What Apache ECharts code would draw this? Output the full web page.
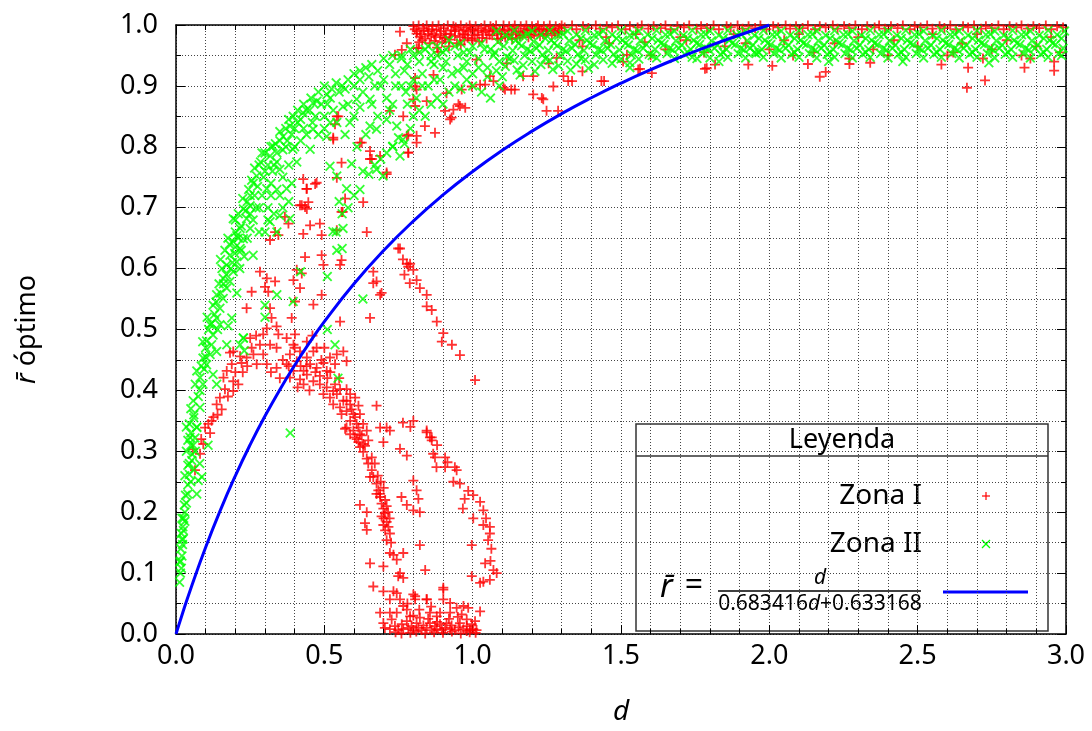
<!DOCTYPE html>
<html><head><meta charset="utf-8">
<script src="https://cdn.jsdelivr.net/npm/echarts@6/dist/echarts.min.js"></script>
<style>html,body{margin:0;padding:0;background:#fff}#c{width:1092px;height:731px}</style>
</head><body><div id="c"></div>
<script>
const xTickLabels = ['0.0','0.5','1.0','1.5','2.0','2.5','3.0'];
const yTickLabels = ['0.0','0.1','0.2','0.3','0.4','0.5','0.6','0.7','0.8','0.9','1.0'];

// Zona I (red +)
const zonaITop = [[.80,.998],[.812,.99],[.818,.999],[.826,.985],[.833,.995],[.84,.978],[.845,.999],[.852,.99],[.86,.982],[.865,.998],[.872,.974],[.878,.992],[.885,.999],[.89,.983],[.897,.972],[.903,.995],[.91,.986],[.916,.999],[.922,.976],[.928,.991],[.935,.998],[.94,.982],[.947,.97],[.953,.993],[.96,.999],[.966,.985],[.972,.975],[.979,.996],[.985,.989],[.99,.999],[.997,.978],[1.003,.992],[1.01,.998],[1.016,.984],[1.022,.973],[1.029,.995],[1.035,.988],[1.04,.999],[1.047,.978],[1.053,.992],[1.06,.998],[1.066,.983],[1.072,.99],[1.079,.999],[1.085,.977],[1.091,.993],[1.098,.986],[1.104,.999],[1.11,.98],[1.117,.992],[1.123,.998],[1.13,.985],[1.136,.994],[1.142,.999],[1.149,.979],[1.155,.99],[1.162,.998],[1.168,.984],[1.175,.994],[1.181,.999],[1.188,.98],[1.194,.991],[1.2,.998],[1.207,.985],[1.214,.995],[1.22,.999],[1.227,.982],[1.233,.992],[1.24,.998],[1.247,.986],[1.253,.994],[1.26,.999],[1.267,.983],[1.273,.991],[1.28,.998],[1.287,.986],[1.293,.995],[1.3,.999],[.83,.975],[.87,.985],[.905,.978],[.94,.99],[.975,.984],[1.0,.975],[.855,.97],[.92,.965],[.96,.968],[.88,.963],[.82,.972],
[.805,.993],[.822,.981],[.837,.991],[.849,.985],[.863,.993],[.876,.98],[.893,.99],[.908,.98],[.925,.985],[.943,.996],[.957,.98],[.97,.991],[.983,.979],[.994,.994],[1.007,.983],[1.019,.991],[1.032,.979],[1.044,.99],[1.057,.984],[1.069,.995],[1.082,.986],[1.095,.978],[1.108,.99],[1.121,.983],[1.133,.977],[1.146,.988],[1.159,.982],[1.172,.988],[1.185,.992],[1.198,.983],[1.21,.99],[1.224,.993],[1.237,.985],[1.25,.99],[1.263,.993],[1.277,.988],[1.29,.99],
[1.31,.996],[1.335,.999],[1.35,.993],[1.372,.998],[1.39,.995],[1.415,.999],[1.43,.994],[1.452,.998],[1.47,.996],[1.49,.999],[1.515,.993],[1.53,.998],[1.556,.996],[1.57,.999],[1.592,.994],[1.61,.998],[1.634,.995],[1.65,.999],[1.668,.993],[1.69,.998],[1.712,.996],[1.73,.999],[1.755,.994],[1.77,.998],[1.79,.995],[1.812,.999],[1.83,.993],[1.856,.998],[1.87,.996],[1.893,.999],[1.91,.994],[1.93,.998],[1.952,.995],[1.97,.999],[1.99,.993],[2.013,.998],[2.03,.996],[2.055,.999],[2.07,.994],[2.09,.998],[2.112,.995],[2.13,.999],[2.154,.993],[2.17,.998],[2.19,.996],[2.214,.999],[2.23,.994],[2.252,.998],[2.27,.995],[2.29,.999],[2.312,.993],[2.33,.998],[2.355,.996],[2.37,.999],[2.39,.994],[2.41,.998],[2.432,.995],[2.45,.999],[2.474,.993],[2.49,.998],[2.51,.996],[2.532,.999],[2.55,.994],[2.574,.998],[2.59,.995],[2.61,.999],[2.63,.993],[2.653,.998],[2.67,.996],[2.69,.999],[2.714,.994],[2.73,.998],[2.75,.995],[2.772,.999],[2.79,.993],[2.81,.998],[2.833,.996],[2.85,.999],[2.872,.994],[2.89,.998],[2.91,.995],[2.932,.999],[2.95,.993],[2.97,.998],[2.99,.996],
[1.36,.975],[1.37,.965],[1.45,.98],[1.46,.97],[1.55,.985],[1.58,.972],[1.65,.96],[1.7,.98],[1.72,.975],[1.85,.965],[1.88,.985],[1.92,.97],[2.0,.96],[2.05,.975],[2.1,.985],[2.15,.955],[2.22,.97],[2.3,.98],[2.35,.96],[2.42,.975],[2.5,.965],[2.55,.985],[2.6,.95],[2.65,.97],[2.7,.985],[2.75,.96],[2.8,.975],[2.85,.95],[2.9,.965],[2.95,.98],[2.98,.955],[2.62,.955],[2.4,.95],[2.08,.95],[1.78,.955],[1.6,.95],[2.88,.945],[2.96,.94],[2.72,.945],[2.27,.945]];
const zonaIUpper = [[0.755,0.989],[0.778,0.97],[0.811,0.986],[0.761,0.959],[0.738,0.951],[0.811,0.962],[0.806,0.913],[0.806,0.899],[0.811,0.894],[0.8,0.878],[0.806,0.867],[0.845,0.875],[0.907,0.859],[0.721,0.859],[0.766,0.85],[0.839,0.834],[0.873,0.823],[0.783,0.82],[0.811,0.818],[0.811,0.807],[0.783,0.791],[0.542,0.85],[0.536,0.837],[0.53,0.815],[0.62,0.807],[0.654,0.78],[0.688,0.785],[0.558,0.774],[0.71,0.758],[0.429,0.747],[0.474,0.741],[0.441,0.731],[0.542,0.749],[0.817,0.962],[0.868,0.918],[0.884,0.956],[0.912,0.888],[0.924,0.845],[0.935,0.861],[0.952,0.87],[0.975,0.864],[0.963,0.894],[0.997,0.899],[1.042,0.902],[1.07,0.908],[1.104,0.897],[1.115,0.937],[1.13,0.894],[1.17,0.916],[1.204,0.916],[1.204,0.886],[1.238,0.878],[1.249,0.859],[1.288,0.859],[1.272,0.899],[1.322,0.908],[1.37,0.924],[1.443,0.908],[1.283,0.946],[1.306,0.916],[1.256,0.937],[1.058,0.916],[1.013,0.943],[0.929,0.848],[0.957,0.867],[1.025,0.902],[1.109,0.894],[1.142,0.894],[1.233,0.88],[1.335,0.908],[1.434,0.908],[1.507,0.94],[1.558,0.927],[1.604,0.921],[1.789,0.929],[1.817,0.935],[1.929,0.935],[1.783,0.928],[2.13,0.936],[2.17,0.915],[2.19,0.923],[2.27,0.936],[2.34,0.938],[2.58,0.935],[2.67,0.93],[2.666,0.897],[2.727,0.909],[2.86,0.93],[2.96,0.925],[1.564,0.928],[1.52,0.951],[2.01,0.933]];
const zonaIScatter = [[0.547,0.85],[0.53,0.812],[0.626,0.807],[0.654,0.793],[0.66,0.78],[0.71,0.755],[0.778,0.818],[0.783,0.79],[0.44,0.731],[0.469,0.739],[0.424,0.704],[0.435,0.701],[0.446,0.709],[0.57,0.715],[0.562,0.693],[0.631,0.709],[0.367,0.685],[0.379,0.674],[0.452,0.671],[0.485,0.674],[0.491,0.655],[0.429,0.657],[0.334,0.66],[0.345,0.655],[0.317,0.647],[0.542,0.663],[0.643,0.66],[0.435,0.619],[0.491,0.622],[0.558,0.614],[0.553,0.606],[0.497,0.606],[0.407,0.598],[0.424,0.592],[0.396,0.581],[0.418,0.568],[0.491,0.557],[0.463,0.541],[0.401,0.546],[0.39,0.519],[0.322,0.519],[0.339,0.505],[0.283,0.595],[0.306,0.584],[0.3,0.57],[0.334,0.579],[0.311,0.562],[0.255,0.562],[0.238,0.535],[0.317,0.535],[0.665,0.595],[0.676,0.579],[0.693,0.56],[0.654,0.519],[0.553,0.513],[0.418,0.704],[0.441,0.698],[0.665,0.576],[0.688,0.557],[0.558,0.693]];
const zonaIArcLeft = [[0.057,0.303],[0.081,0.296],[0.092,0.312],[0.064,0.269],[0.098,0.339],[0.109,0.345],[0.126,0.356],[0.137,0.377],[0.154,0.369],[0.148,0.388],[0.165,0.402],[0.193,0.399],[0.193,0.415],[0.16,0.421],[0.171,0.432],[0.188,0.443],[0.182,0.462],[0.216,0.456],[0.2,0.43],[0.21,0.41],[0.12,0.35],[0.14,0.36],[0.175,0.39],[0.115,0.33],[0.085,0.32],[0.225,0.43],[0.24,0.44],[0.255,0.47],[0.27,0.49]];
const zonaICluster = [[0.294,0.492],[0.345,0.492],[0.373,0.486],[0.396,0.475],[0.418,0.464],[0.384,0.459],[0.339,0.47],[0.317,0.475],[0.283,0.475],[0.294,0.459],[0.261,0.459],[0.238,0.454],[0.272,0.443],[0.306,0.443],[0.339,0.437],[0.373,0.443],[0.407,0.448],[0.441,0.454],[0.463,0.464],[0.474,0.47],[0.452,0.443],[0.43,0.432],[0.396,0.432],[0.384,0.421],[0.418,0.418],[0.441,0.426],[0.474,0.437],[0.497,0.445],[0.519,0.454],[0.542,0.459],[0.564,0.464],[0.575,0.448],[0.536,0.443],[0.508,0.432],[0.485,0.424],[0.463,0.415],[0.485,0.41],[0.508,0.405],[0.53,0.399],[0.497,0.394],[0.542,0.394],[0.519,0.388],[0.564,0.383],[0.553,0.372],[0.53,0.377],[0.587,0.377],[0.575,0.366],[0.598,0.361],[0.558,0.361],[0.587,0.35],[0.609,0.345],[0.598,0.334],[0.575,0.339],[0.62,0.328],[0.609,0.32],[0.631,0.312],[0.676,0.375],[0.71,0.339],[0.8,0.35],[0.845,0.334],[0.862,0.323],[0.441,0.48],[0.401,0.492],[0.306,0.502],[0.25,0.486],[0.193,0.464],[0.221,0.445],[0.41,0.405],[0.43,0.41],[0.45,0.4],[0.36,0.45],[0.35,0.42],[0.32,0.43],[0.46,0.49],[0.5,0.47],[0.52,0.43],[0.55,0.42],[0.4,0.47],[0.38,0.44],[0.42,0.44],[0.44,0.44],[0.47,0.43],[0.49,0.45],[0.51,0.42]];
const zonaITail = [[0.57,0.337],[0.587,0.328],[0.603,0.323],[0.615,0.315],[0.62,0.307],[0.631,0.299],[0.643,0.288],[0.648,0.28],[0.66,0.269],[0.665,0.258],[0.676,0.247],[0.682,0.236],[0.688,0.225],[0.693,0.214],[0.699,0.206],[0.704,0.198],[0.693,0.193],[0.71,0.184],[0.716,0.176],[0.721,0.165],[0.699,0.179],[0.688,0.23],[0.676,0.23],[0.654,0.258],[0.643,0.2],[0.62,0.212],[0.637,0.182],[0.643,0.171],[0.71,0.154],[0.721,0.133],[0.733,0.13],[0.766,0.133],[0.744,0.122],[0.699,0.111],[0.654,0.116],[0.755,0.1],[0.766,0.092],[0.749,0.095],[0.699,0.07],[0.733,0.07],[0.721,0.057],[0.665,0.078],[0.688,0.035],[0.744,0.035],[0.536,0.41],[0.553,0.402],[0.575,0.402],[0.587,0.394],[0.604,0.388],[0.575,0.383],[0.615,0.375],[0.592,0.369],[0.62,0.361],[0.604,0.356],[0.631,0.345],[0.615,0.339],[0.643,0.334],[0.626,0.326],[0.648,0.318],[0.637,0.309],[0.688,0.339],[0.721,0.334],[0.699,0.315],[0.66,0.29],[0.67,0.28],[0.68,0.26],[0.69,0.25],[0.7,0.24],[0.705,0.22],[0.71,0.21],[0.715,0.2],[0.7,0.19],[0.72,0.19],[0.705,0.17],[0.725,0.15]];
const zonaIBottom = [[.704,.010],[.721,.008],[.738,.013],[.749,.0065],[.761,.016],[.766,.008],[.778,.021],[.783,.010],[.794,.013],[.8,.0065],[.811,.018],[.817,.010],[.828,.0065],[.834,.014],[.845,.010],[.856,.018],[.862,.0065],[.873,.013],[.879,.008],[.89,.016],[.896,.0065],[.907,.010],[.912,.018],[.924,.008],[.929,.014],[.94,.0065],[.952,.011],[.957,.018],[.969,.008],[.98,.013],[.991,.0065],[.997,.016],[1.002,.008],[1.013,.0065],[1.008,.021],[.98,.024],[.946,.043],[.969,.046],[.924,.051],[.901,.073],[.901,.057],[.845,.057],[.856,.035],[.8,.065],[.806,.057],[.778,.04],[.766,.046],[.755,.057],[.744,.067],[.721,.035],[.789,.029],[.822,.027],[.879,.029],[.924,.035],[.963,.032],[1.025,.037],[.985,.043],[.89,.035],[.727,.024],[.699,.018],[.74,.003],[.76,.001],[.79,.002],[.81,.004],[.84,.001],[.87,.003],[.9,.002],[.93,.004],[.96,.001],[.99,.003],[1.01,.002],[.85,.025],[.88,.02],[.92,.025],[.95,.028],[.98,.005],[.82,.04],[.86,.045],[.78,.05],[.8,.03]];
const zonaIArcMid = [[0.749,0.633],[0.778,0.608],[0.783,0.603],[0.8,0.598],[0.788,0.576],[0.811,0.581],[0.822,0.568],[0.845,0.557],[0.845,0.538],[0.862,0.532],[0.879,0.513],[0.901,0.494],[0.896,0.48],[0.93,0.475],[0.957,0.458],[1.008,0.417],[0.765,0.615],[0.77,0.59],[0.755,0.633],[0.789,0.608]];
const zonaILoop = [[0.845,0.331],[0.862,0.318],[0.867,0.296],[0.873,0.29],[0.907,0.29],[0.878,0.274],[0.907,0.274],[0.946,0.269],[0.935,0.25],[0.957,0.247],[0.973,0.222],[0.967,0.206],[1.002,0.228],[1.025,0.217],[1.036,0.203],[1.002,0.19],[1.036,0.179],[1.058,0.176],[1.058,0.165],[1.052,0.154],[0.997,0.146],[1.042,0.116],[1.07,0.105],[1.081,0.1],[1.058,0.089],[1.036,0.086],[1.025,0.084],[0.997,0.095],[0.765,0.347],[0.79,0.34],[0.856,0.323],[0.94,0.274],[0.88,0.31],[0.915,0.282],[0.985,0.235],[1.045,0.19],[1.063,0.14],[1.06,0.12],[0.755,0.304],[0.778,0.293],[0.8,0.252],[0.811,0.236],[0.76,0.225],[0.817,0.222],[0.778,0.212],[0.8,0.203],[0.822,0.2],[0.822,0.146],[0.84,0.105],[0.806,0.062],[0.845,0.057],[0.901,0.076]];

// Zona II (green x)
const zonaIIColumn = [[0.012,0.085],[0.015,0.1],[0.018,0.108],[0.013,0.118],[0.02,0.128],[0.016,0.14],[0.022,0.147],[0.024,0.156],[0.018,0.165],[0.023,0.176],[0.026,0.19],[0.03,0.2],[0.028,0.212],[0.032,0.228],[0.04,0.245],[0.07,0.23],[0.075,0.252],[0.087,0.258],[0.045,0.262],[0.04,0.277],[0.053,0.285],[0.06,0.27],[0.058,0.31],[0.064,0.322],[0.108,0.31],[0.04,0.318],[0.035,0.3],[0.05,0.33],[0.045,0.345],[0.07,0.34],[0.06,0.355],[0.055,0.295],[0.015,0.12],[0.02,0.155],[0.025,0.17],[0.03,0.185],[0.035,0.215],[0.04,0.23],[0.05,0.25],[0.045,0.28],[0.05,0.31],[0.065,0.3],[0.08,0.28],[0.03,0.26],[0.02,0.19]];
const zonaIIOuter = [[0.047,0.323],[0.07,0.339],[0.081,0.372],[0.058,0.383],[0.091,0.41],[0.081,0.421],[0.07,0.432],[0.103,0.442],[0.091,0.453],[0.115,0.459],[0.137,0.464],[0.103,0.481],[0.125,0.491],[0.115,0.508],[0.137,0.519],[0.148,0.535],[0.125,0.54],[0.159,0.551],[0.137,0.557],[0.171,0.568],[0.182,0.579],[0.159,0.584],[0.193,0.595],[0.171,0.606],[0.205,0.611],[0.182,0.622],[0.216,0.633],[0.193,0.644],[0.227,0.649],[0.216,0.666],[0.193,0.682],[0.238,0.682],[0.227,0.698],[0.25,0.703],[0.148,0.508],[0.171,0.475],[0.216,0.475],[0.227,0.486],[0.188,0.519],[0.176,0.506],[0.125,0.426],[0.137,0.41],[0.081,0.4],[0.06,0.36],[0.075,0.39],[0.095,0.435],[0.1,0.47],[0.11,0.5],[0.12,0.475],[0.13,0.525],[0.145,0.575],[0.155,0.6],[0.165,0.63],[0.175,0.65],[0.2,0.66],[0.21,0.69],[0.24,0.71],[0.205,0.56],[0.215,0.6],[0.23,0.62],[0.198,0.625],[0.185,0.6],
[0.035,0.34],[0.05,0.37],[0.065,0.41],[0.085,0.44],[0.1,0.455],[0.09,0.48],[0.105,0.52],[0.12,0.51],[0.135,0.545],[0.14,0.5],[0.15,0.56],[0.16,0.575],[0.15,0.615],[0.17,0.59],[0.18,0.64],[0.19,0.61],[0.2,0.635],[0.2,0.68],[0.21,0.65],[0.22,0.67],[0.225,0.715],[0.235,0.695],[0.245,0.73],[0.255,0.745],[0.265,0.72],[0.265,0.765],[0.275,0.735],[0.285,0.775],[0.295,0.75],[0.3,0.79],[0.31,0.77],[0.32,0.8],[0.325,0.76],[0.335,0.805],[0.34,0.775],[0.35,0.825],[0.36,0.795],[0.37,0.83],[0.375,0.81],[0.38,0.845],[0.395,0.85],[0.4,0.83],[0.41,0.86],[0.42,0.845],[0.43,0.87],[0.45,0.86],[0.455,0.88],[0.475,0.875],[0.48,0.89],[0.5,0.9],[0.51,0.87],[0.525,0.895],[0.54,0.905],[0.56,0.9],[0.58,0.91],[0.6,0.92],[0.62,0.925],[0.64,0.93],[0.66,0.935],[0.7,0.945],[0.73,0.95],[0.26,0.68],[0.28,0.7],[0.28,0.66],[0.24,0.65],[0.22,0.63],[0.25,0.69],[0.32,0.72],[0.34,0.73],[0.36,0.75],[0.38,0.77],[0.4,0.8],[0.42,0.81],[0.44,0.82],[0.46,0.84],[0.48,0.82],[0.5,0.83],[0.52,0.84],[0.31,0.68],[0.35,0.72],[0.39,0.74]];
const zonaIIMiddle = [[0.25,0.72],[0.272,0.752],[0.317,0.785],[0.327,0.801],[0.361,0.817],[0.384,0.834],[0.428,0.856],[0.462,0.872],[0.509,0.886],[0.25,0.666],[0.317,0.677],[0.35,0.687],[0.384,0.682],[0.306,0.731],[0.373,0.731],[0.35,0.763],[0.407,0.775],[0.394,0.796],[0.462,0.829],[0.452,0.796],[0.508,0.817],[0.519,0.768],[0.542,0.752],[0.575,0.731],[0.592,0.772],[0.542,0.84],[0.586,0.84],[0.563,0.866],[0.609,0.878],[0.654,0.878],[0.654,0.834],[0.676,0.829],[0.71,0.845],[0.744,0.834],[0.765,0.812],[0.731,0.801],[0.676,0.763],[0.698,0.752],[0.755,0.785],[0.563,0.666],[0.529,0.661],[0.542,0.63],[0.26,0.622],[0.205,0.654],[0.26,0.74],[0.28,0.77],[0.29,0.72],[0.3,0.76],[0.31,0.7],[0.32,0.74],[0.33,0.77],[0.34,0.79],[0.27,0.7],[0.29,0.79],[0.35,0.81],[0.37,0.8],[0.39,0.82],[0.41,0.84],[0.43,0.83],[0.44,0.86],[0.47,0.85],[0.49,0.87],[0.5,0.85],[0.52,0.88],[0.53,0.86],[0.55,0.89],[0.57,0.895],[0.6,0.9],[0.62,0.91],[0.63,0.89],[0.65,0.915],[0.67,0.9],[0.68,0.925],[0.7,0.91],[0.72,0.935],[0.74,0.92],[0.76,0.945],[0.78,0.935],[0.8,0.95],[0.82,0.94],[0.84,0.96],[0.86,0.95],[0.88,0.965],[0.9,0.955],[0.3,0.66],[0.33,0.69],[0.36,0.7],[0.34,0.66],[0.38,0.71]];
const zonaIIInner = [[0.56,0.69],[0.6,0.72],[0.62,0.73],[0.65,0.755],[0.69,0.78],[0.73,0.8],[0.77,0.805],[0.54,0.66],[0.55,0.71],[0.58,0.7],[0.63,0.76],[0.67,0.77],[0.71,0.79],[0.75,0.815],[0.79,0.83],[0.8,0.85],[0.82,0.86],[0.84,0.85],[0.86,0.87],[0.88,0.88],[0.9,0.87],[0.92,0.89],[0.94,0.9],[0.96,0.895],[0.98,0.91],[1.0,0.92],[1.03,0.89],[1.06,0.88],[1.09,0.9],[1.0,0.9],[0.97,0.93],[0.93,0.92],[0.89,0.91],[0.85,0.9],[0.81,0.88],[0.78,0.87],[0.83,0.92],[0.87,0.935],[0.91,0.94],[0.95,0.95],[0.99,0.955],[1.02,0.945],[1.05,0.93],[1.04,0.96],[0.96,0.97],[0.92,0.975],[1.07,0.95],[0.775,0.89],[0.8,0.91],[0.76,0.9],[0.73,0.87],[0.76,0.95],[0.79,0.96],[0.82,0.955],[0.85,0.965],[0.88,0.95],[0.91,0.96],[0.94,0.965],[0.97,0.955],[1.0,0.965],[1.03,0.97],[1.06,0.96],[1.02,0.93],[0.98,0.94],[0.9,0.93],[0.86,0.94],[0.83,0.9],[0.87,0.91],[0.95,0.925],[1.05,0.915],[0.79,0.9],[0.77,0.925],[0.74,0.9],[0.71,0.88],[0.69,0.9],[0.66,0.87],[0.62,0.865],[0.58,0.87],[0.6,0.85],[0.57,0.82],[0.61,0.8],[0.64,0.82],[0.68,0.85],[0.72,0.86]];
const zonaIITop = [[1.08,.99],[1.085,.972],[1.075,.955],[1.09,.94],[1.08,.925],[1.11,.983],[1.105,.965],[1.115,.948],[1.11,.932],[1.1,.915],[1.14,.991],[1.145,.975],[1.135,.958],[1.14,.942],[1.15,.926],[1.17,.982],[1.165,.966],[1.175,.95],[1.17,.934],[1.16,.918],[1.2,.99],[1.205,.973],[1.195,.957],[1.2,.94],[1.21,.924],[1.23,.984],[1.225,.967],[1.235,.951],[1.23,.935],[1.26,.991],[1.265,.975],[1.255,.958],[1.26,.942],[1.27,.927],[1.29,.983],[1.285,.966],[1.295,.95],[1.29,.933],[1.32,.99],[1.325,.974],[1.315,.957],[1.32,.941],[1.33,.926],[1.35,.984],[1.345,.968],[1.355,.952],[1.35,.936],[1.38,.991],[1.385,.975],[1.375,.958],[1.38,.943],[1.39,.929],[1.41,.983],[1.405,.967],[1.415,.951],[1.41,.935],[1.44,.99],[1.445,.974],[1.435,.958],[1.44,.943],[1.47,.984],[1.465,.968],[1.475,.952],[1.47,.937],[1.5,.991],[1.505,.975],[1.495,.959],[1.5,.944],[1.53,.983],[1.525,.967],[1.535,.951],[1.53,.938],[1.56,.99],[1.565,.974],[1.555,.958],[1.56,.944],[1.59,.984],[1.585,.968],[1.595,.952],
[1.62,.991],[1.625,.975],[1.615,.96],[1.62,.946],[1.65,.984],[1.645,.968],[1.655,.953],[1.68,.99],[1.685,.974],[1.675,.959],[1.68,.945],[1.71,.983],[1.705,.967],[1.715,.952],[1.74,.991],[1.745,.975],[1.735,.96],[1.74,.947],[1.77,.984],[1.765,.968],[1.775,.953],[1.8,.99],[1.805,.974],[1.795,.96],[1.8,.946],[1.83,.983],[1.825,.967],[1.835,.952],[1.86,.991],[1.865,.975],[1.855,.96],[1.86,.947],[1.89,.984],[1.885,.968],[1.895,.953],[1.92,.99],[1.925,.974],[1.915,.959],[1.92,.946],[1.95,.983],[1.945,.967],[1.955,.953],[1.98,.991],[1.985,.975],[1.975,.96],[1.98,.947],[2.01,.984],[2.005,.968],[2.015,.953],[2.04,.99],[2.045,.974],[2.035,.959],[2.04,.946],[2.07,.983],[2.065,.967],[2.075,.952],[2.1,.991],[2.105,.975],[2.095,.96],[2.1,.947],[2.13,.984],[2.125,.968],[2.135,.953],[2.16,.99],[2.165,.974],[2.155,.959],[2.16,.946],[2.19,.983],[2.185,.967],[2.195,.952],[2.22,.991],[2.225,.975],[2.215,.96],[2.22,.947],[2.25,.984],[2.245,.968],[2.255,.953],[2.28,.99],[2.285,.974],[2.275,.959],[2.28,.946],[2.31,.983],[2.305,.967],[2.315,.952],[2.34,.991],[2.345,.975],[2.335,.96],[2.34,.947],[2.37,.984],[2.365,.968],[2.375,.953],[2.4,.99],[2.405,.974],[2.395,.959],[2.4,.946],[2.43,.983],[2.425,.967],[2.435,.952],[2.46,.991],[2.465,.975],[2.455,.96],[2.46,.947],[2.49,.984],[2.485,.968],[2.495,.953],[2.52,.99],[2.525,.974],[2.515,.959],[2.52,.946],[2.55,.983],[2.545,.967],[2.555,.952],[2.58,.991],[2.585,.975],[2.575,.96],[2.58,.947],[2.61,.984],[2.605,.968],[2.615,.953],[2.64,.99],[2.645,.974],[2.635,.959],[2.64,.946],[2.67,.983],[2.665,.967],[2.675,.952],[2.7,.991],[2.705,.975],[2.695,.96],[2.7,.947],[2.73,.984],[2.725,.968],[2.735,.953],[2.76,.99],[2.765,.974],[2.755,.959],[2.76,.946],[2.79,.983],[2.785,.967],[2.795,.952],[2.82,.991],[2.825,.975],[2.815,.96],[2.82,.947],[2.85,.984],[2.845,.968],[2.855,.953],[2.88,.99],[2.885,.974],[2.875,.959],[2.88,.946],[2.91,.983],[2.905,.967],[2.915,.952],[2.94,.991],[2.945,.975],[2.935,.96],[2.94,.947],[2.97,.984],[2.965,.968],[2.975,.953],[2.995,.99],[2.99,.962],
[1.125,.978],[1.125,.945],[1.185,.985],[1.185,.96],[1.245,.978],[1.245,.945],[1.305,.985],[1.305,.96],[1.365,.978],[1.365,.945],[1.425,.985],[1.425,.96],[1.485,.978],[1.485,.945],[1.545,.985],[1.545,.96],[1.605,.978],[1.605,.95],[1.665,.985],[1.665,.962],[1.725,.978],[1.725,.955],[1.785,.985],[1.785,.962],[1.845,.978],[1.845,.955],[1.905,.985],[1.905,.962],[1.965,.978],[1.965,.955],[2.025,.985],[2.025,.962],[2.085,.978],[2.085,.955],[2.145,.985],[2.145,.962],[2.205,.978],[2.205,.955],[2.265,.985],[2.265,.962],[2.325,.978],[2.325,.955],[2.385,.985],[2.385,.962],[2.445,.978],[2.445,.955],[2.505,.985],[2.505,.962],[2.565,.978],[2.565,.955],[2.625,.985],[2.625,.962],[2.685,.978],[2.685,.955],[2.745,.985],[2.745,.962],[2.805,.978],[2.805,.955],[2.865,.985],[2.865,.962],[2.925,.978],[2.925,.955],[2.985,.978],[2.985,.95],
[1.155,.97],[1.215,.962],[1.275,.97],[1.335,.962],[1.395,.97],[1.455,.962],[1.515,.97],[1.575,.962],[1.635,.97],[1.695,.962],[1.755,.97],[1.815,.962],[1.875,.97],[1.935,.962],[1.995,.97],[2.055,.962],[2.115,.97],[2.175,.962],[2.235,.97],[2.295,.962],[2.355,.97],[2.415,.962],[2.475,.97],[2.535,.962],[2.595,.97],[2.655,.962],[2.715,.97],[2.775,.962],[2.835,.97],[2.895,.962],[2.955,.97]];
const zonaIIStray = [[0.385,0.33],[0.546,0.42],[0.51,0.587],[0.63,0.55],[0.56,0.633],[0.42,0.595],[0.395,0.546],[0.536,0.475],[0.51,0.5],[0.34,0.557],[0.3,0.54],[0.3,0.52],[0.227,0.486],[0.23,0.465],[2.2,0.94],[2.45,0.94],[2.74,0.938],[1.83,0.94],[1.756,0.945],[1.53,0.93],[1.95,0.955]];

// fitted curve r = d/(0.683416 d + 0.633168), values read at these d
const curveD = [0,0.02,0.05,0.1,0.15,0.2,0.25,0.3,0.35,0.4,0.45,0.5,0.6,0.7,0.8,0.9,1.0,1.1,1.2,1.3,1.4,1.5,1.6,1.7,1.8,1.9,2.0];
const curveR = [0,0.0309,0.0749,0.1425,0.2039,0.2598,0.3109,0.3579,0.4012,0.4412,0.4784,0.5129,0.5751,0.6297,0.6780,0.7210,0.7595,0.7943,0.8257,0.8544,0.8805,0.9045,0.9267,0.9471,0.9660,0.9836,1.0];

const zonaI = [].concat(zonaITop, zonaIUpper, zonaIScatter, zonaIArcLeft, zonaICluster, zonaITail, zonaIBottom, zonaIArcMid, zonaILoop);
const zonaII = [].concat(zonaIIColumn, zonaIIOuter, zonaIIMiddle, zonaIIInner, zonaIITop, zonaIIStray);
const curve = curveD.map((d, i) => [d, curveR[i]]);

const FONT = 'Noto Sans';
const plusPath = 'path://M4.1,0H5.9V4.1H10V5.9H5.9V10H4.1V5.9H0V4.1H4.1Z';
const xPath = 'path://M0,1.3L1.3,0L5,3.7L8.7,0L10,1.3L6.3,5L10,8.7L8.7,10L5,6.3L1.3,10L0,8.7L3.7,5Z';
const gridLine = {show: true, lineStyle: {color: '#444', type: [1, 2], width: 1}};
const axLine = {show: true, onZero: false, lineStyle: {color: '#000', width: 1.5}};
const tick = {show: true, inside: true, length: 9, lineStyle: {color: '#000', width: 1}};

const chart = echarts.init(document.getElementById('c'), null, {renderer: 'canvas'});
chart.setOption({
  animation: false,
  backgroundColor: '#fff',
  grid: {left: 176, top: 25, right: 26, bottom: 93},
  xAxis: [{
    type: 'value', min: 0, max: 3, interval: 0.5, position: 'bottom',
    axisLine: axLine, axisTick: tick,
    minorTick: {show: true, splitNumber: 5, length: 5, lineStyle: {color: '#000'}},
    splitLine: gridLine, minorSplitLine: gridLine,
    axisLabel: {margin: 9, color: '#000', fontFamily: FONT, fontSize: 27,
      formatter: v => xTickLabels[Math.round(v / 0.5)]},
    name: 'd', nameLocation: 'middle', nameGap: 64,
    nameTextStyle: {fontFamily: FONT, fontSize: 28, fontStyle: 'italic', color: '#000'}
  }, {
    type: 'value', min: 0, max: 3, interval: 0.5, position: 'top',
    axisLine: axLine, axisTick: tick,
    minorTick: {show: true, splitNumber: 5, length: 5, lineStyle: {color: '#000'}},
    splitLine: {show: false}, axisLabel: {show: false}
  }],
  yAxis: [{
    type: 'value', min: 0, max: 1, interval: 0.1, position: 'left',
    axisLine: axLine, axisTick: tick,
    minorTick: {show: true, splitNumber: 2, length: 5, lineStyle: {color: '#000'}},
    splitLine: gridLine, minorSplitLine: gridLine,
    axisLabel: {margin: 18, color: '#000', fontFamily: FONT, fontSize: 27,
      formatter: v => yTickLabels[Math.round(v * 10)]},
    name: '{i|r\u0304} óptimo', nameLocation: 'middle', nameGap: 135, nameRotate: 90,
    nameTextStyle: {fontFamily: FONT, fontSize: 27, color: '#000',
      rich: {i: {fontFamily: FONT, fontSize: 27, fontStyle: 'italic', color: '#000'}}}
  }, {
    type: 'value', min: 0, max: 1, interval: 0.1, position: 'right',
    axisLine: axLine, axisTick: tick,
    minorTick: {show: true, splitNumber: 2, length: 5, lineStyle: {color: '#000'}},
    splitLine: {show: false}, axisLabel: {show: false}
  }],
  series: [{
    name: 'Zona I', type: 'scatter', data: zonaI, symbol: plusPath, symbolSize: 10,
    itemStyle: {color: '#ff0000'}, silent: true
  }, {
    name: 'Zona II', type: 'scatter', data: zonaII, symbol: xPath, symbolSize: 10,
    itemStyle: {color: '#00ff00'}, silent: true
  }, {
    name: 'ajuste', type: 'line', data: curve, showSymbol: false, symbol: 'none', smooth: true,
    lineStyle: {color: '#0000ff', width: 3}, silent: true, z: 5
  }],
  graphic: [{
    type: 'group', z: 100, children: [
      {type: 'rect', shape: {x: 636, y: 424, width: 412, height: 207}, style: {fill: '#fff', stroke: '#333', lineWidth: 1.5}},
      {type: 'line', shape: {x1: 636, y1: 456, x2: 1048, y2: 456}, style: {stroke: '#333', lineWidth: 1.5}},
      {type: 'text', style: {text: 'Leyenda', x: 842, y: 440, font: '27px "Noto Sans"', fill: '#000', align: 'center', verticalAlign: 'middle', textAlign: 'center', textVerticalAlign: 'middle'}},
      {type: 'text', style: {text: 'Zona I', x: 922, y: 496, font: '28px "Noto Sans"', fill: '#000', align: 'right', verticalAlign: 'middle', textAlign: 'right', textVerticalAlign: 'middle'}},
      {type: 'text', style: {text: 'Zona II', x: 922, y: 544, font: '28px "Noto Sans"', fill: '#000', align: 'right', verticalAlign: 'middle', textAlign: 'right', textVerticalAlign: 'middle'}},
      {type: 'line', shape: {x1: 982, y1: 496, x2: 990, y2: 496}, style: {stroke: '#ff0000', lineWidth: 1.2}},
      {type: 'line', shape: {x1: 986, y1: 492, x2: 986, y2: 500}, style: {stroke: '#ff0000', lineWidth: 1.2}},
      {type: 'line', shape: {x1: 982, y1: 540, x2: 990, y2: 548}, style: {stroke: '#00ff00', lineWidth: 1.3}},
      {type: 'line', shape: {x1: 982, y1: 548, x2: 990, y2: 540}, style: {stroke: '#00ff00', lineWidth: 1.3}},
      {type: 'text', style: {text: 'r\u0304', x: 660, y: 588, font: 'italic 32px "Noto Sans"', fill: '#000', align: 'left', verticalAlign: 'middle', textAlign: 'left', textVerticalAlign: 'middle'}},
      {type: 'text', style: {text: '=', x: 694, y: 586, font: '32px "Noto Sans"', fill: '#000', align: 'center', verticalAlign: 'middle', textAlign: 'center', textVerticalAlign: 'middle'}},
      {type: 'text', style: {text: 'd', x: 820, y: 578, font: 'italic 21px "Noto Sans"', fill: '#000', align: 'center', verticalAlign: 'middle', textAlign: 'center', textVerticalAlign: 'middle'}},
      {type: 'line', shape: {x1: 718, y1: 591, x2: 921, y2: 591}, style: {stroke: '#000', lineWidth: 1.5}},
      {type: 'text', style: {text: '0.683416{i|d}+0.633168', x: 820, y: 604, fontFamily: FONT, fontSize: 21, fill: '#000', align: 'center', verticalAlign: 'middle', textAlign: 'center', textVerticalAlign: 'middle',
        rich: {i: {fontFamily: FONT, fontSize: 21, fontStyle: 'italic', fill: '#000'}}}},
      {type: 'line', shape: {x1: 943, y1: 592, x2: 1028, y2: 592}, style: {stroke: '#0000ff', lineWidth: 3}}
    ]
  }]
});
</script>
</body></html>
